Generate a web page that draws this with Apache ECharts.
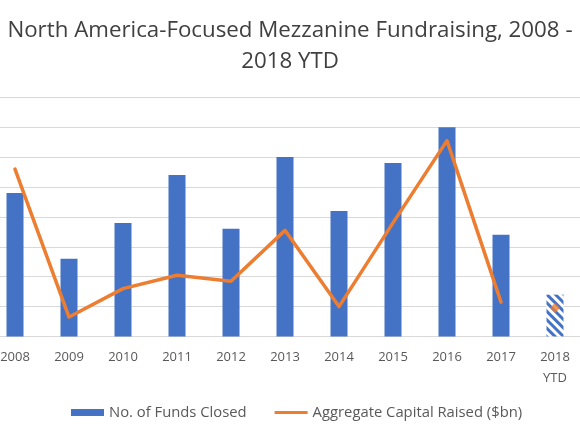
<!DOCTYPE html>
<html>
<head>
<meta charset="utf-8">
<script src="https://cdn.jsdelivr.net/npm/echarts@6/dist/echarts.min.js"></script>
<style>
html,body{margin:0;padding:0;background:#fff;}
#chart{width:580px;height:435px;}
</style>
</head>
<body>
<div id="chart"></div>
<script>
var categories = ['2008','2009','2010','2011','2012','2013','2014','2015','2016','2017','2018\nYTD'];
var fundsClosed = [24, 13, 19, 27, 18, 30, 21, 29, 35, 17, 7];
var capitalRaised = [11.2, 1.3, 3.2, 4.1, 3.7, 7.1, 2.0, 7.6, 13.1, 2.3, null];
var capitalYTD = [null, null, null, null, null, null, null, null, null, null, 1.9];
var ytdIndex = 10;

var FONT = '"Open Sans", Lato, sans-serif';
var BLUE = '#4472C4';
var ORANGE = '#ED7D31';

var barData = fundsClosed.map(function (v, i) {
  if (i === ytdIndex) {
    return {
      value: v,
      itemStyle: {
        color: '#ffffff',
        decal: {
          symbol: 'rect',
          color: BLUE,
          dashArrayX: [1, 0],
          dashArrayY: [3, 3],
          symbolSize: 1,
          rotation: Math.PI / 4
        }
      }
    };
  }
  return v;
});

var chart = echarts.init(document.getElementById('chart'), null, {renderer: 'canvas'});
chart.setOption({
  animation: false,
  backgroundColor: '#ffffff',
  aria: {enabled: false, decal: {show: false}},
  title: {
    text: 'North America-Focused Mezzanine Fundraising, 2008 -\n2018 YTD',
    left: 'center',
    top: 10,
    textStyle: {
      fontFamily: FONT,
      fontSize: 22.3,
      fontWeight: 'normal',
      color: '#404040',
      lineHeight: 31
    }
  },
  legend: {
    bottom: 10,
    left: 66,
    itemWidth: 33,
    itemHeight: 7,
    itemGap: 28,
    textStyle: {fontFamily: FONT, fontSize: 14.8, color: '#595959'},
    data: [
      {name: 'No. of Funds Closed', icon: 'rect'},
      {name: 'Aggregate Capital Raised ($bn)', icon: 'path://M0,0L33,0L33,3.2L0,3.2Z'}
    ]
  },
  grid: {left: -12, right: -2, top: 97.3, bottom: 98.5, containLabel: false, outerBoundsMode: 'none'},
  xAxis: {
    type: 'category',
    data: categories,
    axisLine: {lineStyle: {color: '#D9D9D9', width: 1}},
    axisTick: {show: false},
    axisLabel: {
      fontFamily: FONT,
      fontSize: 13,
      color: '#595959',
      margin: 10,
      lineHeight: 21,
      interval: 0
    }
  },
  yAxis: [
    {
      type: 'value',
      min: 0, max: 40, interval: 5,
      axisLabel: {show: false},
      axisLine: {show: false},
      axisTick: {show: false},
      splitLine: {lineStyle: {color: '#D9D9D9', width: 1}}
    },
    {
      type: 'value',
      min: 0, max: 16, interval: 2,
      show: false,
      splitLine: {show: false}
    }
  ],
  series: [
    {
      name: 'No. of Funds Closed',
      type: 'bar',
      data: barData,
      barWidth: 17,
      itemStyle: {color: BLUE}
    },
    {
      name: 'Aggregate Capital Raised ($bn)',
      type: 'line',
      yAxisIndex: 1,
      data: capitalRaised,
      showSymbol: false,
      symbol: 'none',
      lineStyle: {color: ORANGE, width: 3.5, cap: 'round', join: 'round'},
      itemStyle: {color: ORANGE}
    },
    {
      name: 'Aggregate Capital Raised ($bn) YTD',
      type: 'scatter',
      yAxisIndex: 1,
      data: capitalYTD,
      symbol: 'diamond',
      symbolSize: 10,
      itemStyle: {color: ORANGE}
    }
  ]
});
</script>
</body>
</html>
